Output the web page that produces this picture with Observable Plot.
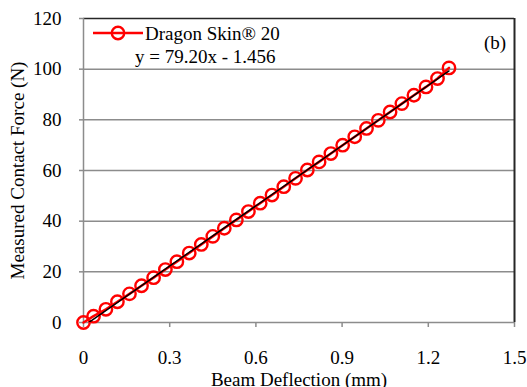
<!DOCTYPE html>
<html>
<head>
<meta charset="utf-8">
<script src="https://cdn.jsdelivr.net/npm/d3@7"></script>
<script src="https://cdn.jsdelivr.net/npm/@observablehq/plot@0.6"></script>
<style>
  body { margin: 0; background: #fff; }
  #wrap { position: relative; width: 527px; height: 387px; overflow: hidden; font-family: 'Liberation Serif', serif; }
  #legend { position: absolute; left: 0; top: 0; }
  #legend text { font-family: 'Liberation Serif', serif; font-size: 19px; fill: #000; }
</style>
</head>
<body>
<div id="wrap"></div>
<script>
// Data
const deflection = [0, 0.035, 0.078, 0.118, 0.160, 0.202, 0.244, 0.285, 0.325, 0.368, 0.410, 0.450, 0.490, 0.532, 0.574, 0.615, 0.656, 0.697, 0.738, 0.779, 0.820, 0.861, 0.902, 0.944, 0.985, 1.026, 1.067, 1.108, 1.150, 1.192, 1.232, 1.272];
const force = [0, 2.5, 5.2, 8.2, 11.3, 14.5, 17.7, 20.9, 24.0, 27.4, 30.8, 34.0, 37.2, 40.5, 43.8, 47.1, 50.3, 53.6, 56.9, 60.2, 63.4, 66.7, 70.0, 73.3, 76.6, 79.8, 83.1, 86.4, 89.7, 93.0, 96.3, 100.5];
const seriesName = "Dragon Skin® 20";
const fitSlope = 79.20, fitIntercept = -1.456;
const fitLabel = "y = 79.20x - 1.456";
const panelLabel = "(b)";
const xLabel = "Beam Deflection (mm)";
const yLabel = "Measured Contact Force (N)";
const xTicks = [0, 0.3, 0.6, 0.9, 1.2, 1.5];
const yTicks = [0, 20, 40, 60, 80, 100, 120];
const yGrid = [20, 40, 60, 80, 100];

const data = deflection.map((x, i) => ({x, y: force[i]}));
const xFitEnds = [deflection[0], deflection[deflection.length - 1]];
const fit = xFitEnds.map(x => ({x, y: fitSlope * x + fitIntercept}));

const red = "#ff0000";
const W = 527, H = 387;
const mL = 83, mR = 13, mT = 18, mB = 65;
const serif = "'Liberation Serif', serif";
const fs = 19;

const chart = Plot.plot({
  width: W, height: H,
  marginLeft: mL, marginRight: mR, marginTop: mT, marginBottom: mB,
  style: {fontFamily: serif, fontSize: fs + "px", color: "#000", background: "#fff", overflow: "visible"},
  x: {domain: [0, 1.5]},
  y: {domain: [0, 120]},
  marks: [
    Plot.ruleY(yGrid, {stroke: "#8c8c8c", strokeWidth: 1.5}),
    Plot.ruleY([120], {stroke: "#262626", strokeWidth: 1.5}),
    Plot.ruleX([1.5], {stroke: "#262626", strokeWidth: 2}),
    Plot.ruleY([0], {stroke: "#8c8c8c", strokeWidth: 1.5}),
    Plot.ruleX([0], {stroke: "#8c8c8c", strokeWidth: 1.5}),
    Plot.axisX({ticks: xTicks, tickFormat: d => String(d), tickSize: 5, tickPadding: 23, stroke: "#8c8c8c", strokeWidth: 1.5, fontSize: fs, fontFamily: serif, label: null}),
    Plot.axisY({ticks: yTicks, tickFormat: d => String(d), tickSize: 4, tickPadding: 18, stroke: "#8c8c8c", strokeWidth: 1.5, fontSize: fs, fontFamily: serif, label: null}),
    Plot.text([xLabel], {text: d => d, frameAnchor: "bottom", dy: 57, lineAnchor: "middle", textAnchor: "middle", fontSize: fs, fontFamily: serif, fill: "#000"}),
    Plot.text([yLabel], {text: d => d, frameAnchor: "left", dx: -66, rotate: -90, lineAnchor: "middle", textAnchor: "middle", fontSize: fs, fontFamily: serif, fill: "#000"}),
    Plot.line(data, {x: "x", y: "y", stroke: red, strokeWidth: 2.5}),
    Plot.dot(data, {x: "x", y: "y", r: 6.2, stroke: red, strokeWidth: 2.4, fill: "none"}),
    Plot.line(fit, {x: "x", y: "y", stroke: "#000", strokeWidth: 1.5, clip: true})
  ]
});
const wrap = document.getElementById("wrap");
wrap.appendChild(chart);

// Legend and annotations overlay
const ns = "http://www.w3.org/2000/svg";
const ov = document.createElementNS(ns, "svg");
ov.setAttribute("id", "legend");
ov.setAttribute("width", W);
ov.setAttribute("height", H);
ov.innerHTML = `
  <line x1="93" y1="33" x2="143" y2="33" stroke="${red}" stroke-width="2.5"/>
  <circle cx="118" cy="33" r="6.2" stroke="${red}" stroke-width="2.4" fill="none"/>
  <text x="145" y="39.5">${seriesName}</text>
  <text x="135" y="63">${fitLabel}</text>
  <text x="484" y="48.5">${panelLabel}</text>
`;
wrap.appendChild(ov);
</script>
</body>
</html>
